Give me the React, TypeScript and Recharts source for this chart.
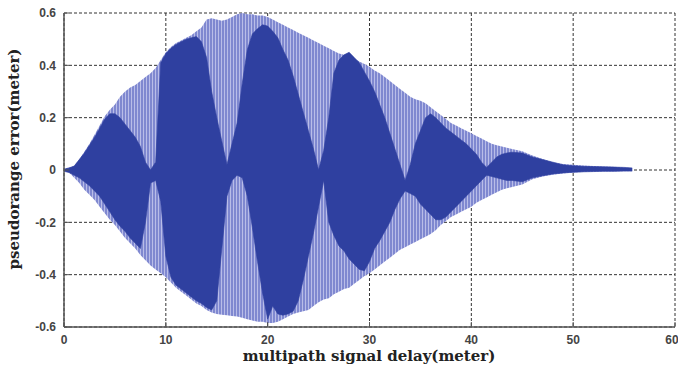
import { Area, CartesianGrid, ComposedChart, Label, XAxis, YAxis } from "recharts";

const delay = [
  0, 0.5, 1, 1.5, 2, 2.5, 3, 3.5, 4, 4.5,
  5, 5.5, 6, 6.5, 7, 7.5, 8, 8.5, 9, 9.5,
  10, 10.5, 11, 11.5, 12, 12.5, 13, 13.5, 14, 14.5,
  15, 15.5, 16, 16.5, 17, 17.5, 18, 18.5, 19, 19.5,
  20, 20.5, 21, 21.5, 22, 22.5, 23, 23.5, 24, 24.5,
  25, 25.5, 26, 26.5, 27, 27.5, 28, 28.5, 29, 29.5,
  30, 30.5, 31, 31.5, 32, 32.5, 33, 33.5, 34, 34.5,
  35, 35.5, 36, 36.5, 37, 37.5, 38, 38.5, 39, 39.5,
  40, 40.5, 41, 41.5, 42, 42.5, 43, 43.5, 44,
  45, 46, 47, 48, 49, 50, 51, 52, 53, 54, 55,
  55.8,
];

// outer envelope of the error (light striped band)
const outerHi = [
  0.005, 0.01, 0.015, 0.04, 0.07, 0.1, 0.135, 0.17, 0.205, 0.23,
  0.25, 0.28, 0.3, 0.315, 0.325, 0.34, 0.355, 0.37, 0.39, 0.42,
  0.45, 0.47, 0.485, 0.495, 0.505, 0.515, 0.53, 0.545, 0.575, 0.58,
  0.575, 0.57, 0.575, 0.585, 0.595, 0.6, 0.595, 0.595, 0.59, 0.59,
  0.585, 0.575, 0.565, 0.555, 0.545, 0.535, 0.525, 0.515, 0.505, 0.495,
  0.485, 0.475, 0.465, 0.455, 0.445, 0.44, 0.435, 0.425, 0.415, 0.405,
  0.395, 0.38, 0.37, 0.355, 0.34, 0.325, 0.31, 0.295, 0.28, 0.27,
  0.265, 0.255, 0.24, 0.225, 0.21, 0.195, 0.18, 0.17, 0.16, 0.15,
  0.14, 0.13, 0.12, 0.11, 0.1, 0.095, 0.09, 0.085, 0.08,
  0.072, 0.055, 0.042, 0.03, 0.023, 0.02, 0.017, 0.015, 0.013, 0.012, 0.01,
  0.008,
];
const outerLo = [
  -0.005, -0.01, -0.03, -0.05, -0.075, -0.095, -0.115, -0.14, -0.165, -0.19,
  -0.21, -0.235, -0.26, -0.28, -0.3, -0.325, -0.345, -0.365, -0.38, -0.395,
  -0.41, -0.43, -0.45, -0.465, -0.48, -0.495, -0.51, -0.52, -0.535, -0.545,
  -0.55, -0.553, -0.555, -0.558, -0.56, -0.565, -0.57, -0.575, -0.58, -0.58,
  -0.585, -0.585, -0.58, -0.57, -0.56, -0.55, -0.545, -0.54, -0.535, -0.52,
  -0.505, -0.495, -0.49, -0.475, -0.465, -0.455, -0.45, -0.435, -0.42, -0.405,
  -0.395, -0.38, -0.365, -0.35, -0.335, -0.32, -0.305, -0.295, -0.285, -0.275,
  -0.265, -0.255, -0.245, -0.23, -0.21, -0.195, -0.18, -0.17, -0.16, -0.15,
  -0.14, -0.125, -0.115, -0.105, -0.095, -0.085, -0.075, -0.07, -0.065,
  -0.055, -0.035, -0.025, -0.018, -0.013, -0.01, -0.008, -0.007, -0.006, -0.006, -0.005,
  -0.005,
];

// dense (dark) part of the oscillation
const darkHi = [
  0.003, 0.008, 0.015, 0.04, 0.065, 0.095, 0.125, 0.16, 0.195, 0.215,
  0.215, 0.2, 0.175, 0.15, 0.125, 0.09, 0.03, 0.0, 0.03, 0.41,
  0.445, 0.465, 0.48, 0.49, 0.5, 0.505, 0.51, 0.49, 0.43, 0.3,
  0.2, 0.11, 0.02, 0.1, 0.18, 0.33, 0.46, 0.52, 0.54, 0.555,
  0.55, 0.53, 0.505, 0.46, 0.42, 0.36, 0.29, 0.22, 0.15, 0.08,
  0.0, 0.075, 0.2, 0.37, 0.42, 0.44, 0.45, 0.43, 0.41, 0.375,
  0.34, 0.3, 0.25, 0.2, 0.14, 0.08, 0.02, -0.04, 0.02, 0.1,
  0.15, 0.2, 0.215, 0.2, 0.18, 0.16, 0.145, 0.13, 0.115, 0.1,
  0.08, 0.06, 0.03, 0.01, 0.03, 0.05, 0.06, 0.065, 0.068,
  0.065, 0.05, 0.04, 0.03, 0.02, 0.016, 0.014, 0.013, 0.012, 0.011, 0.01,
  0.008,
];
const darkLo = [
  -0.005, -0.01, -0.02, -0.03, -0.045, -0.06, -0.08, -0.1, -0.13, -0.16,
  -0.19, -0.215, -0.235, -0.26, -0.28, -0.3, -0.2, -0.05, -0.04, -0.12,
  -0.33, -0.41, -0.44, -0.455, -0.47, -0.485, -0.5, -0.51, -0.525, -0.535,
  -0.5, -0.3, -0.1, -0.04, -0.02, -0.03, -0.1, -0.22, -0.35, -0.47,
  -0.57, -0.52, -0.55, -0.555, -0.55, -0.54, -0.5, -0.42, -0.33, -0.24,
  -0.14, -0.04, -0.2, -0.25, -0.29, -0.31, -0.34, -0.36, -0.38, -0.385,
  -0.35, -0.3, -0.27, -0.235, -0.2, -0.15, -0.11, -0.08, -0.09, -0.1,
  -0.13, -0.15, -0.17, -0.19, -0.19, -0.18, -0.16, -0.14, -0.12, -0.1,
  -0.08, -0.06, -0.04, -0.02, -0.025, -0.03, -0.035, -0.04, -0.04,
  -0.045, -0.03, -0.022, -0.015, -0.011, -0.009, -0.007, -0.006, -0.005, -0.005, -0.004,
  -0.004,
];

const xTicks = [0, 10, 20, 30, 40, 50, 60];
const yTicks = [-0.6, -0.4, -0.2, 0, 0.2, 0.4, 0.6];

const data = delay.map((x, i) => ({
  x,
  envelope: [outerLo[i], outerHi[i]],
  core: [darkLo[i], darkHi[i]],
}));

const DARK = "#2f40a0";
const FRAME = "#555";
const tickStyle = { fontSize: 12, fontWeight: 700, fill: "#444", fontFamily: "'Liberation Sans', Arial, sans-serif" };
const titleFont = "'DejaVu Serif', serif";

export default function App() {
  return (
    <div style={{ position: "absolute", left: 0, top: 0, background: "#fff" }}>
      <ComposedChart width={678} height={373} data={data} margin={{ top: 13, right: 3, bottom: 0, left: 0 }}>
        <defs>
          <pattern id="stripes" width="3" height="6" patternUnits="userSpaceOnUse">
            <rect x="0" y="0" width="3" height="6" fill="#b9bde8" />
            <rect x="0" y="0" width="2" height="6" fill="#7f88d0" />
          </pattern>
        </defs>
        <CartesianGrid stroke="#333" strokeDasharray="3 2" />
        <XAxis
          dataKey="x"
          type="number"
          domain={[0, 60]}
          ticks={xTicks}
          height={46}
          tick={tickStyle}
          tickSize={-5}
          tickMargin={13}
          axisLine={{ stroke: FRAME, strokeWidth: 1.5 }}
          tickLine={{ stroke: FRAME }}
        >
          <Label
            content={() => (
              <text x={369} y={361} textAnchor="middle" fontFamily={titleFont} fontWeight="bold" fontSize={15} fill="#222">
                multipath signal delay(meter)
              </text>
            )}
          />
        </XAxis>
        <XAxis
          xAxisId="top"
          orientation="top"
          type="number"
          domain={[0, 60]}
          ticks={xTicks}
          height={0}
          tick={false}
          tickSize={-5}
          axisLine={{ stroke: FRAME, strokeWidth: 1.5 }}
          tickLine={{ stroke: FRAME }}
        />
        <YAxis
          type="number"
          domain={[-0.6, 0.6]}
          ticks={yTicks}
          width={64}
          tick={tickStyle}
          tickSize={-5}
          tickMargin={13}
          tickFormatter={(v: number) => (v === 0 ? "0" : v.toFixed(1))}
          axisLine={{ stroke: FRAME, strokeWidth: 1.5 }}
          tickLine={{ stroke: FRAME }}
        >
          <Label
            content={() => (
              <text
                x={14}
                y={159}
                transform="rotate(-90, 14, 159)"
                textAnchor="middle"
                dominantBaseline="central"
                fontFamily={titleFont}
                fontWeight="bold"
                fontSize={15}
                fill="#222"
              >
                pseudorange error(meter)
              </text>
            )}
          />
        </YAxis>
        <YAxis
          yAxisId="right"
          orientation="right"
          type="number"
          domain={[-0.6, 0.6]}
          ticks={yTicks}
          width={0}
          tick={false}
          tickSize={-5}
          axisLine={{ stroke: FRAME, strokeWidth: 1.5 }}
          tickLine={{ stroke: FRAME }}
        />
        <Area
          dataKey="envelope"
          type="linear"
          fill="url(#stripes)"
          fillOpacity={1}
          stroke="none"
          dot={false}
          activeDot={false}
          isAnimationActive={false}
        />
        <Area
          dataKey="core"
          type="linear"
          fill={DARK}
          fillOpacity={1}
          stroke={DARK}
          strokeWidth={0.6}
          dot={false}
          activeDot={false}
          isAnimationActive={false}
        />
      </ComposedChart>
    </div>
  );
}
